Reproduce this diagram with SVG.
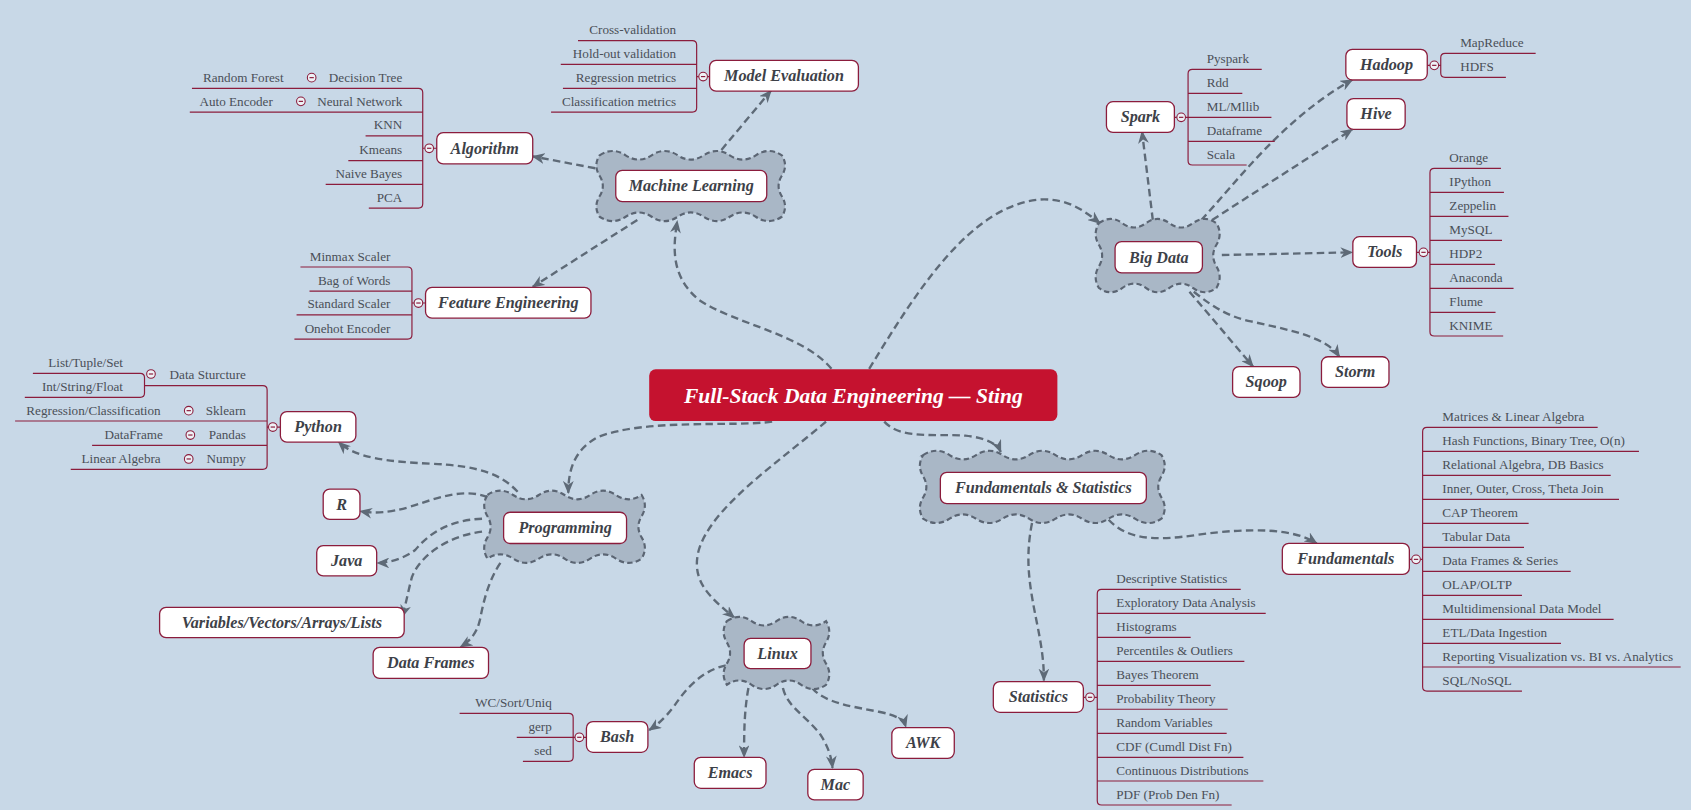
<svg xmlns="http://www.w3.org/2000/svg" width="1691" height="810" viewBox="0 0 1691 810">
<defs>
<style>
.nb{fill:#fff;stroke:#8b1c3c;stroke-width:1.2}
.nl{font-family:"Liberation Serif",serif;font-weight:bold;font-style:italic;font-size:15px;fill:#3d4148;text-anchor:middle}
.lf{font-family:"Liberation Serif",serif;font-size:12.2px;fill:#4a4f57}
.le{text-anchor:end}
.br{fill:none;stroke:#8b1c3c;stroke-width:1.1}
.cl{fill:#a9b7c6;stroke:#5b6573;stroke-width:2;stroke-dasharray:5 3}
.cn{fill:none;stroke:#5e6a77;stroke-width:2.2;stroke-dasharray:7 4;marker-end:url(#ah)}
.cc{fill:#eef2f6;stroke:#8b1c3c;stroke-width:1}
.ti{font-family:"Liberation Serif",serif;font-weight:bold;font-style:italic;font-size:20px;fill:#fff;text-anchor:middle}
</style>
<marker id="ah" viewBox="0 0 12 10" refX="11" refY="5" markerWidth="12" markerHeight="10" markerUnits="userSpaceOnUse" orient="auto">
<path d="M0,0 L12,5 L0,10 L3.5,5 z" fill="#5e6a77"/>
</marker>
</defs>
<rect width="1691" height="810" fill="#c8d8e7"/>
<g transform="scale(1.0784)">
<g id="connectors">
<path class="cn" d="M771,342 C745,310 680,300 648,278 C620,255 625,225 628,205"/>
<path class="cn" d="M806,342 C850,270 900,190 965,185 C990,184 1005,195 1020,207"/>
<path class="cn" d="M552,156 L494,145"/>
<path class="cn" d="M669,139 L715,84"/>
<path class="cn" d="M591,204 L494,266"/>
<path class="cn" d="M1069,204 L1059,122"/>
<path class="cn" d="M1114,204 C1150,165 1190,110 1254,74"/>
<path class="cn" d="M1124,204 L1254,120"/>
<path class="cn" d="M1133,236.5 L1254,234"/>
<path class="cn" d="M1103,270.5 L1162,340"/>
<path class="cn" d="M1107,270.5 C1125,285 1140,294 1160,298 C1195,306 1230,312 1242,331"/>
<path class="cn" d="M716,391 C680,396 600,388 555,405 C530,418 527,440 527,457"/>
<path class="cn" d="M820,391 C835,408 870,402 895,404 C915,406 925,412 928,419"/>
<path class="cn" d="M766,391 C720,430 660,470 648,510 C640,540 660,555 681,573"/>
<path class="cn" d="M480,456 C465,440 445,432 400,430 C360,428 330,425 314,410"/>
<path class="cn" d="M452,461 C430,452 405,462 380,470 C360,476 345,476 334,474"/>
<path class="cn" d="M447,481 C420,482 400,492 385,510 C375,518 360,522 350,522"/>
<path class="cn" d="M447,493 C415,497 390,515 382,535 C378,550 376,562 373,572"/>
<path class="cn" d="M464,522 C452,540 448,560 445,575 C442,588 435,595 427,600"/>
<path class="cn" d="M673,617 C650,622 635,640 625,655 C615,668 608,673 602,677"/>
<path class="cn" d="M694,638 C690,660 690,680 690,702"/>
<path class="cn" d="M726,638 C730,655 745,662 760,680 C768,692 771,702 772,712"/>
<path class="cn" d="M753,638 C765,652 790,655 815,660 C830,663 838,667 840,674"/>
<path class="cn" d="M1028,482 C1045,500 1070,502 1110,496 C1160,489 1200,490 1221,504"/>
<path class="cn" d="M957,485 C950,520 955,545 962,580 C967,605 968,618 968,631"/>
</g>

<g id="title">
<rect x="602" y="342.5" width="378.5" height="48" rx="6" fill="#c5122f"/>
<text class="ti" x="791.3" y="373.5">Full-Stack Data Engineering — Sting</text>
</g>

<g id="machine-learning">
<path class="cl" d="M556,144 q12.07,-8 24.14,0 t24.14,0 t24.14,0 t24.14,0 t24.14,0 t24.14,0 t24.14,0 q6,9.5 0,19 t0,19 t0,19 q-12.07,8 -24.14,0 t-24.14,0 t-24.14,0 t-24.14,0 t-24.14,0 t-24.14,0 t-24.14,0 q-6,-9.5 0,-19 t0,-19 t0,-19 z"/>
<rect class="nb" x="571" y="158" width="140" height="29" rx="6"/>
<text class="nl" x="641" y="177.5">Machine Learning</text>
</g>

<g id="big-data">
<path class="cl" d="M1019,207 q10.9,-8 21.8,0 t21.8,0 t21.8,0 t21.8,0 t21.8,0 q6,10 0,20 t0,20 t0,20 q-10.9,8 -21.8,0 t-21.8,0 t-21.8,0 t-21.8,0 t-21.8,0 q-6,-10 0,-20 t0,-20 t0,-20 z"/>
<rect class="nb" x="1034" y="224" width="81" height="29" rx="6"/>
<text class="nl" x="1074.5" y="243.5">Big Data</text>
</g>

<g id="programming">
<path class="cl" d="M452,459 q11.92,-8 23.83,0 t23.83,0 t23.83,0 t23.83,0 t23.83,0 t23.83,0 q6,9.83 0,19.67 t0,19.67 t0,19.67 q-11.92,8 -23.83,0 t-23.83,0 t-23.83,0 t-23.83,0 t-23.83,0 t-23.83,0 q-6,-9.83 0,-19.67 t0,-19.67 t0,-19.67 z"/>
<rect class="nb" x="467" y="475" width="114" height="29" rx="6"/>
<text class="nl" x="524" y="494.5">Programming</text>
</g>

<g id="fundamentals-statistics">
<path class="cl" d="M856,422 q12.28,-8 24.56,0 t24.56,0 t24.56,0 t24.56,0 t24.56,0 t24.56,0 t24.56,0 t24.56,0 t24.56,0 q6,9.83 0,19.67 t0,19.67 t0,19.67 q-12.28,8 -24.56,0 t-24.56,0 t-24.56,0 t-24.56,0 t-24.56,0 t-24.56,0 t-24.56,0 t-24.56,0 t-24.56,0 q-6,-9.83 0,-19.67 t0,-19.67 t0,-19.67 z"/>
<rect class="nb" x="872" y="438" width="191" height="29" rx="6"/>
<text class="nl" x="967.5" y="457.5">Fundamentals &amp; Statistics</text>
</g>

<g id="linux">
<path class="cl" d="M674,576 q11.5,-8 23,0 t23,0 t23,0 t23,0 q6,9.83 0,19.67 t0,19.67 t0,19.67 q-11.5,8 -23,0 t-23,0 t-23,0 t-23,0 q-6,-9.83 0,-19.67 t0,-19.67 t0,-19.67 z"/>
<rect class="nb" x="690" y="592" width="62" height="28" rx="6"/>
<text class="nl" x="721" y="611">Linux</text>
</g>

<g id="model-evaluation">
<path class="br" d="M536,37.7 H642 Q646,37.7 646,41.7 V100 Q646,104 642,104 H511 M520,59.7 H646 M522,82 H646 M646,71 H648 M656,71 H658"/>
<circle class="cc" cx="652" cy="71" r="4"/><path class="br" d="M650,71 H654"/>
<text class="lf le" x="627" y="31.7">Cross-validation</text>
<text class="lf le" x="627" y="53.7">Hold-out validation</text>
<text class="lf le" x="627" y="76">Regression metrics</text>
<text class="lf le" x="627" y="98">Classification metrics</text>
<rect class="nb" x="658" y="56" width="138" height="28.5" rx="6"/>
<text class="nl" x="727" y="75">Model Evaluation</text>
</g>

<g id="algorithm">
<path class="br" d="M178,82 H388 Q392,82 392,86 V189 Q392,193 388,193 H342 M176,104 H392 M339,126 H392 M323,149 H392 M302,171 H392 M392,137.5 H394 M402,137.5 H405"/>
<circle class="cc" cx="398" cy="137.5" r="4"/><path class="br" d="M396,137.5 H400"/>
<circle class="cc" cx="289" cy="72" r="4"/><path class="br" d="M287,72 H291"/>
<circle class="cc" cx="279" cy="94" r="4"/><path class="br" d="M277,94 H281"/>
<text class="lf le" x="373" y="76">Decision Tree</text>
<text class="lf le" x="263" y="76">Random Forest</text>
<text class="lf le" x="373" y="98">Neural Network</text>
<text class="lf le" x="253" y="98">Auto Encoder</text>
<text class="lf le" x="373" y="120">KNN</text>
<text class="lf le" x="373" y="143">Kmeans</text>
<text class="lf le" x="373" y="165">Naive Bayes</text>
<text class="lf le" x="373" y="187">PCA</text>
<rect class="nb" x="405" y="123" width="89" height="29" rx="6"/>
<text class="nl" x="449.5" y="142.5">Algorithm</text>
</g>

<g id="feature-engineering">
<path class="br" d="M278.6,247.6 H378 Q382,247.6 382,251.6 V310.4 Q382,314.4 378,314.4 H273 M287,270 H382 M275,292 H382 M382,281 H384 M392,281 H394.6"/>
<circle class="cc" cx="388" cy="281" r="4"/><path class="br" d="M386,281 H390"/>
<text class="lf le" x="362" y="241.6">Minmax Scaler</text>
<text class="lf le" x="362" y="264">Bag of Words</text>
<text class="lf le" x="362" y="286">Standard Scaler</text>
<text class="lf le" x="362" y="308.4">Onehot Encoder</text>
<rect class="nb" x="394.6" y="266.5" width="153.4" height="28.5" rx="6"/>
<text class="nl" x="471.3" y="286">Feature Engineering</text>
</g>

<g id="spark">
<path class="br" d="M1170,64.3 H1105.7 Q1101.7,64.3 1101.7,68.3 V149 Q1101.7,153 1105.7,153 H1156 M1101.7,86.6 H1152 M1101.7,108.8 H1179 M1101.7,131.1 H1182 M1089,108.8 H1091.3 M1099.3,108.8 H1101.7"/>
<circle class="cc" cx="1095.3" cy="108.8" r="4"/><path class="br" d="M1093.3,108.8 H1097.3"/>
<text class="lf" x="1119" y="58.3">Pyspark</text>
<text class="lf" x="1119" y="80.6">Rdd</text>
<text class="lf" x="1119" y="102.8">ML/Mllib</text>
<text class="lf" x="1119" y="125.1">Dataframe</text>
<text class="lf" x="1119" y="147">Scala</text>
<rect class="nb" x="1026" y="94.3" width="63" height="28.4" rx="6"/>
<text class="nl" x="1057.5" y="113.5">Spark</text>
</g>

<g id="hadoop">
<path class="br" d="M1424,49.5 H1340 Q1336,49.5 1336,53.5 V67.7 Q1336,71.7 1340,71.7 H1396.4 M1323.5,60.6 H1326 M1334,60.6 H1336"/>
<circle class="cc" cx="1330" cy="60.6" r="4"/><path class="br" d="M1328,60.6 H1332"/>
<text class="lf" x="1354" y="43.5">MapReduce</text>
<text class="lf" x="1354" y="65.7">HDFS</text>
<rect class="nb" x="1248" y="45.7" width="75.5" height="28.5" rx="6"/>
<text class="nl" x="1285.7" y="65">Hadoop</text>
</g>

<g id="hive">
<rect class="nb" x="1249" y="91.5" width="54" height="28.5" rx="6"/>
<text class="nl" x="1276" y="110.8">Hive</text>
</g>

<g id="tools">
<path class="br" d="M1391.8,156.1 H1330 Q1326,156.1 1326,160.1 V307.6 Q1326,311.6 1330,311.6 H1393.9 M1326,178.4 H1394.6 M1326,200.6 H1398.8 M1326,222.9 H1392.8 M1326,245.1 H1386.4 M1326,267.4 H1403.5 M1326,289.6 H1386.8 M1313.6,234 H1316 M1324,234 H1326"/>
<circle class="cc" cx="1320" cy="234" r="4"/><path class="br" d="M1318,234 H1322"/>
<text class="lf" x="1344" y="150.1">Orange</text>
<text class="lf" x="1344" y="172.4">IPython</text>
<text class="lf" x="1344" y="194.6">Zeppelin</text>
<text class="lf" x="1344" y="216.9">MySQL</text>
<text class="lf" x="1344" y="239.1">HDP2</text>
<text class="lf" x="1344" y="261.4">Anaconda</text>
<text class="lf" x="1344" y="283.6">Flume</text>
<text class="lf" x="1344" y="305.6">KNIME</text>
<rect class="nb" x="1254.5" y="219.5" width="59" height="28.5" rx="6"/>
<text class="nl" x="1284" y="238.7">Tools</text>
</g>

<g id="sqoop">
<rect class="nb" x="1143" y="340" width="62.5" height="28.5" rx="6"/>
<text class="nl" x="1174.2" y="359.2">Sqoop</text>
</g>

<g id="storm">
<rect class="nb" x="1225.4" y="330.8" width="62.6" height="28.4" rx="6"/>
<text class="nl" x="1256.7" y="350">Storm</text>
</g>

<g id="python">
<path class="br" d="M134,357.6 H243.7 Q247.7,357.6 247.7,361.6 V431.2 Q247.7,435.2 243.7,435.2 H65.6 M14,390.4 H247.7 M85.4,413 H247.7 M30.5,346.2 H130 Q134,346.2 134,350.2 V364.4 Q134,368.4 130,368.4 H23 M247.7,396 H249 M257,396 H260"/>
<circle class="cc" cx="253" cy="396" r="4"/><path class="br" d="M251,396 H255"/>
<circle class="cc" cx="140" cy="346.8" r="4"/><path class="br" d="M138,346.8 H142"/>
<circle class="cc" cx="175" cy="380.8" r="4"/><path class="br" d="M173,380.8 H177"/>
<circle class="cc" cx="176.5" cy="403.4" r="4"/><path class="br" d="M174.5,403.4 H178.5"/>
<circle class="cc" cx="175" cy="425.6" r="4"/><path class="br" d="M173,425.6 H177"/>
<text class="lf le" x="114" y="340.2">List/Tuple/Set</text>
<text class="lf le" x="114" y="362.4">Int/String/Float</text>
<text class="lf le" x="228" y="351.6">Data Sturcture</text>
<text class="lf le" x="149" y="384.8">Regression/Classification</text>
<text class="lf le" x="228" y="384.8">Sklearn</text>
<text class="lf le" x="151" y="407.4">DataFrame</text>
<text class="lf le" x="228" y="407.4">Pandas</text>
<text class="lf le" x="149" y="429.6">Linear Algebra</text>
<text class="lf le" x="228" y="429.6">Numpy</text>
<rect class="nb" x="260" y="381.7" width="70" height="28.3" rx="6"/>
<text class="nl" x="295" y="400.8">Python</text>
</g>

<g id="r">
<rect class="nb" x="299.7" y="453.5" width="34.1" height="28.1" rx="6"/>
<text class="nl" x="316.7" y="472.5">R</text>
</g>

<g id="java">
<rect class="nb" x="293.7" y="506" width="55.6" height="28.1" rx="6"/>
<text class="nl" x="321.5" y="525">Java</text>
</g>

<g id="variables">
<rect class="nb" x="148" y="563.2" width="226.8" height="28.1" rx="6"/>
<text class="nl" x="261.4" y="582.3">Variables/Vectors/Arrays/Lists</text>
</g>

<g id="data-frames">
<rect class="nb" x="346" y="600.3" width="107" height="28.7" rx="6"/>
<text class="nl" x="399.5" y="619.7">Data Frames</text>
</g>

<g id="bash">
<path class="br" d="M426.2,661.5 H527.5 Q531.5,661.5 531.5,665.5 V702 Q531.5,706 527.5,706 H484.9 M479.2,683.7 H533.2 M541.2,683.7 H543.8"/>
<circle class="cc" cx="537.2" cy="683.7" r="4"/><path class="br" d="M535.2,683.7 H539.2"/>
<text class="lf le" x="511.7" y="655.5">WC/Sort/Uniq</text>
<text class="lf le" x="511.7" y="677.7">gerp</text>
<text class="lf le" x="511.7" y="700">sed</text>
<rect class="nb" x="543.8" y="669.2" width="57" height="28.4" rx="6"/>
<text class="nl" x="572.3" y="688.4">Bash</text>
</g>

<g id="emacs">
<rect class="nb" x="643.8" y="702.3" width="66.5" height="28.7" rx="6"/>
<text class="nl" x="677" y="721.7">Emacs</text>
</g>

<g id="mac">
<rect class="nb" x="749.1" y="713.4" width="51.3" height="28.4" rx="6"/>
<text class="nl" x="774.7" y="732.6">Mac</text>
</g>

<g id="awk">
<rect class="nb" x="827" y="674.8" width="57.9" height="28.4" rx="6"/>
<text class="nl" x="856" y="694">AWK</text>
</g>

<g id="statistics">
<path class="br" d="M1150.5,546.5 H1021.5 Q1017.5,546.5 1017.5,550.5 V742.5 Q1017.5,746.5 1021.5,746.5 H1142.1 M1017.5,568.7 H1173.7 M1017.5,591 H1104.1 M1017.5,613.3 H1153.9 M1017.5,635.5 H1122.7 M1017.5,657.7 H1138.4 M1017.5,680 H1137.5 M1017.5,702.3 H1153 M1017.5,724.2 H1171.5 M1004.6,646.6 H1006.8 M1014.8,646.6 H1017.5"/>
<circle class="cc" cx="1010.8" cy="646.6" r="4"/><path class="br" d="M1008.8,646.6 H1012.8"/>
<text class="lf" x="1035" y="540.5">Descriptive Statistics</text>
<text class="lf" x="1035" y="562.7">Exploratory Data Analysis</text>
<text class="lf" x="1035" y="585">Histograms</text>
<text class="lf" x="1035" y="607.3">Percentiles &amp; Outliers</text>
<text class="lf" x="1035" y="629.5">Bayes Theorem</text>
<text class="lf" x="1035" y="651.7">Probability Theory</text>
<text class="lf" x="1035" y="674">Random Variables</text>
<text class="lf" x="1035" y="696.3">CDF (Cumdl Dist Fn)</text>
<text class="lf" x="1035" y="718.2">Continuous Distributions</text>
<text class="lf" x="1035" y="740.5">PDF (Prob Den Fn)</text>
<rect class="nb" x="921.1" y="632.1" width="83.5" height="28.4" rx="6"/>
<text class="nl" x="962.9" y="651.3">Statistics</text>
</g>

<g id="fundamentals">
<path class="br" d="M1481.5,396.3 H1323.2 Q1319.2,396.3 1319.2,400.3 V636.8 Q1319.2,640.8 1323.2,640.8 H1411.3 M1319.2,418.6 H1519.8 M1319.2,440.8 H1493.6 M1319.2,463.1 H1501.3 M1319.2,485.3 H1417.5 M1319.2,507.6 H1413.2 M1319.2,529.8 H1456.5 M1319.2,552.1 H1411.3 M1319.2,574.3 H1496.3 M1319.2,596.6 H1447.5 M1319.2,618.5 H1558.5 M1306.9,518.7 H1309.1 M1317.1,518.7 H1319.2"/>
<circle class="cc" cx="1313.1" cy="518.7" r="4"/><path class="br" d="M1311.1,518.7 H1315.1"/>
<text class="lf" x="1337.5" y="390.3">Matrices &amp; Linear Algebra</text>
<text class="lf" x="1337.5" y="412.6">Hash Functions, Binary Tree, O(n)</text>
<text class="lf" x="1337.5" y="434.8">Relational Algebra, DB Basics</text>
<text class="lf" x="1337.5" y="457.1">Inner, Outer, Cross, Theta Join</text>
<text class="lf" x="1337.5" y="479.3">CAP Theorem</text>
<text class="lf" x="1337.5" y="501.6">Tabular Data</text>
<text class="lf" x="1337.5" y="523.8">Data Frames &amp; Series</text>
<text class="lf" x="1337.5" y="546.1">OLAP/OLTP</text>
<text class="lf" x="1337.5" y="568.3">Multidimensional Data Model</text>
<text class="lf" x="1337.5" y="590.6">ETL/Data Ingestion</text>
<text class="lf" x="1337.5" y="612.5">Reporting Visualization vs. BI vs. Analytics</text>
<text class="lf" x="1337.5" y="634.8">SQL/NoSQL</text>
<rect class="nb" x="1189.1" y="503.8" width="117.8" height="28.8" rx="6"/>
<text class="nl" x="1248" y="523.2">Fundamentals</text>
</g>
</g>
</svg>
